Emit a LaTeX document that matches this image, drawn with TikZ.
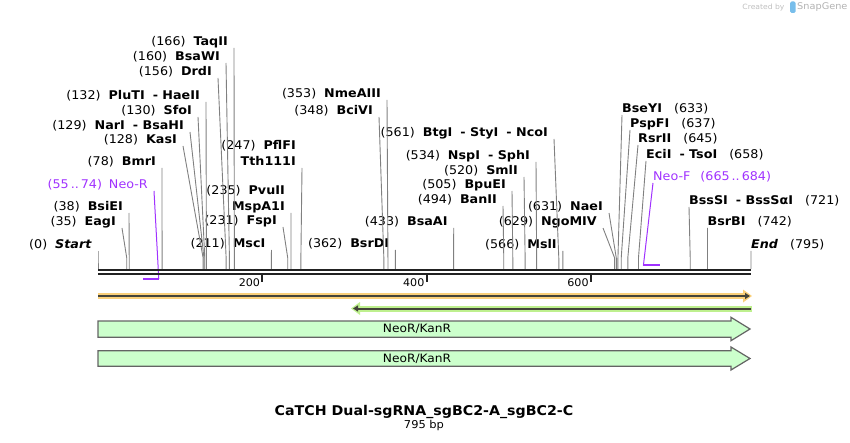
\documentclass[tikz,border=0pt]{standalone}
\usepackage{fontspec}
\setmainfont{DejaVu Sans}[FakeStretch=1.06]
\usetikzlibrary{arrows.meta,positioning}

\definecolor{cutgray}{RGB}{128,128,128}
\definecolor{primer}{RGB}{160,50,255}
\definecolor{trackblack}{RGB}{34,34,34}
\definecolor{featfill}{RGB}{204,255,204}
\definecolor{featdraw}{RGB}{100,100,100}
\definecolor{orangeband}{RGB}{250,208,122}
\definecolor{greenband}{RGB}{190,240,142}
\definecolor{darkline}{RGB}{68,68,58}
\definecolor{logoblue}{RGB}{120,190,235}

\newcommand{\lcut}[2]{(#1)\hspace{8pt}\textbf{#2}}
\newcommand{\rcut}[2]{\textbf{#1}\hspace{12pt}(#2)}

\begin{document}
\begin{tikzpicture}[
  x=1pt, y=-1pt,
  declare function={bp(\n)=98+0.82138*\n;},
  cutl/.style={anchor=south east, inner xsep=6pt, inner ysep=0pt, text height=9pt, text depth=2.5pt, font=\fontsize{12}{14}\selectfont},
  cutr/.style={cutl, anchor=south west, inner xsep=0pt},
  cutline/.style={draw=cutgray, line width=0.9pt},
  primerbar/.style={draw=primer, line width=2pt},
  primerline/.style={draw=primer, line width=1pt},
  feature/.style={draw=featdraw, fill=featfill, line width=1.2pt},
  featlabel/.style={font=\fontsize{11.5}{13}\selectfont, inner sep=1pt}
]
\useasboundingbox (0,0) rectangle (850,443);

% watermark
\node[font=\fontsize{7.2}{9}\selectfont, text=gray!50, anchor=east] (made) at (788,7.5) {Created by};
\fill[logoblue, rounded corners=1.5pt] (790,1.5) rectangle (795.5,13);
\node[font=\fontsize{9.2}{11}\selectfont, text=gray!60, anchor=west, inner xsep=1pt] (snapgene) at (796,7.5) {SnapGene};

% enzymes, left side
\node[cutl] (start) at (98,251) {\lcut{0}{\itshape Start}};
\node[cutl] (eagI) at (122,228) {\lcut{35}{EagI}};
\node[cutl] (bsiEI) at (129,213) {\lcut{38}{BsiEI}};
\node[cutl, text=primer] (neoR) at (154,191) {(55\,..\,74)\hspace{7pt}Neo-R};
\node[cutl] (bmrI) at (162,168) {\lcut{78}{BmrI}};
\node[cutl] (kasI) at (183,146) {\lcut{128}{KasI}};
\node[cutl] (narI) at (190,132) {\lcut{129}{NarI\hspace{8pt}- BsaHI}};
\node[cutl] (sfoI) at (198,117) {\lcut{130}{SfoI}};
\node[cutl] (pluTI) at (206,102) {\lcut{132}{PluTI\hspace{8pt}- HaeII}};
\node[cutl] (drdI) at (218,78) {\lcut{156}{DrdI}};
\node[cutl] (bsaWI) at (226,63) {\lcut{160}{BsaWI}};
\node[cutl] (taqII) at (234,48) {\lcut{166}{TaqII}};
\node[cutl] (mscI) at (271.5,250) {\lcut{211}{MscI}};
\node[cutl] (fspI) at (283,227) {\lcut{231}{FspI}};
\node[cutl] (mspA1I) at (291,213) {\textbf{MspA1I}};
\node[cutl] (pvuII) at ([yshift=3.5pt]mspA1I.north east) {\lcut{235}{PvuII}};
\node[cutl] (tth111I) at (302,168) {\textbf{Tth111I}};
\node[cutl] (pflFI) at ([yshift=3.5pt]tth111I.north east) {\lcut{247}{PflFI}};
\node[cutl] (bciVI) at (379,117) {\lcut{348}{BciVI}};
\node[cutl] (nmeAIII) at (387,100) {\lcut{353}{NmeAIII}};
\node[cutl] (bsrDI) at (395.3,250) {\lcut{362}{BsrDI}};
\node[cutl] (bsaAI) at (453.7,228) {\lcut{433}{BsaAI}};
\node[cutl] (banII) at (503,206) {\lcut{494}{BanII}};
\node[cutl] (bpuEI) at (512,191) {\lcut{505}{BpuEI}};
\node[cutl] (smlI) at (524,177) {\lcut{520}{SmlI}};
\node[cutl] (nspI) at (536,162) {\lcut{534}{NspI\hspace{8pt}- SphI}};
\node[cutl] (btgI) at (554,139) {\lcut{561}{BtgI\hspace{8pt}- StyI\hspace{8pt}- NcoI}};
\node[cutl] (mslI) at (562.9,251) {\lcut{566}{MslI}};
\node[cutl] (ngoMIV) at (603,228) {\lcut{629}{NgoMIV}};
\node[cutl] (naeI) at (609,213) {\lcut{631}{NaeI}};

% enzymes, right side
\node[cutr] (bseYI) at (622,115) {\rcut{BseYI}{633}};
\node[cutr] (pspFI) at (630,130) {\rcut{PspFI}{637}};
\node[cutr] (rsrII) at (638,145) {\rcut{RsrII}{645}};
\node[cutr] (eciI) at (646,161) {\rcut{EciI\hspace{8pt}- TsoI}{658}};
\node[cutr, text=primer] (neoF) at (653,183) {Neo-F\hspace{10pt}(665\,..\,684)};
\node[cutr] (bssSI) at (689,207) {\rcut{BssSI\hspace{8pt}- BssSαI}{721}};
\node[cutr] (bsrBI) at (707.5,228) {\rcut{BsrBI}{742}};
\node[cutr] (endsite) at (751,251) {\rcut{\itshape End}{795}};

% cut lines
\foreach \n/\p/\a in {start/0/south east, eagI/35/south east, bsiEI/38/south east,
    bmrI/78/south east, kasI/128/south east, narI/129/south east, sfoI/130/south east,
    pluTI/132/south east, drdI/156/south east, bsaWI/160/south east, taqII/166/south east,
    mscI/211/south east, fspI/231/south east, mspA1I/235/south east, tth111I/247/south east,
    bciVI/348/south east, nmeAIII/353/south east, bsrDI/362/south east, bsaAI/433/south east,
    banII/494/south east, bpuEI/505/south east, smlI/520/south east, nspI/534/south east,
    btgI/561/south east, mslI/566/south east, ngoMIV/629/south east, naeI/631/south east,
    bseYI/633/south west, pspFI/637/south west, rsrII/645/south west, eciI/658/south west,
    bssSI/721/south west, bsrBI/742/south west, endsite/795/south west}{
  \coordinate (\n-cut) at ({bp(\p)},269);
  \draw[cutline] (\n.\a) -- ([yshift=11pt]\n-cut) -- (\n-cut);
}

% primers
\coordinate (neoR-end) at ({bp(74)},279);
\coordinate (neoF-start) at ({bp(664)},265.5);
\draw[primerline] (neoR.south east) -- (neoR-end);
\draw[primerline] (neoF.south west) -- (neoF-start);
\draw[primerbar] ({bp(55)},279) -- (neoR-end);
\draw[primerbar] (neoF-start) -- ({bp(684)},265.5);

% sequence
\draw[trackblack, line width=2pt] (98,270.3) -- (751,270.3);
\draw[trackblack, line width=2pt] (98,274.3) -- (751,274.3);
\foreach \t in {200,400,600}{
  \draw[trackblack, line width=2pt] ({bp(\t)},275) -- ({bp(\t)},281.5);
  \node[anchor=east, inner sep=1pt, font=\fontsize{10.5}{13}\selectfont] (tick\t) at ({bp(\t)-1},283) {\t};
}

% features
\fill[orangeband] (98,292.7) rectangle (746,299.3);
\fill[orangeband] (743,289.5) -- (752,296) -- (743,302.5) -- cycle;
\draw[darkline, line width=2pt, -{Triangle[length=5pt,width=6pt]}] (98,296) -- (750,296);

\fill[greenband] (357,305.5) rectangle (752,311.5);
\fill[greenband] (360,302) -- (351,308.5) -- (360,315) -- cycle;
\draw[darkline, line width=2pt, {Triangle[length=5pt,width=6pt]}-] (353,308.5) -- (751,308.5);

\draw[feature] (98,321) -- (731,321) -- (731,317.3) -- (750,329) -- (731,340.7) -- (731,337.3) -- (98,337.3) -- cycle;
\node[featlabel] (neoKan1) at (417,329) {NeoR/KanR};
\draw[feature] (98,350.7) -- (731,350.7) -- (731,347) -- (750,358.5) -- (731,370) -- (731,366.3) -- (98,366.3) -- cycle;
\node[featlabel] (neoKan2) at (417,358.5) {NeoR/KanR};

% title
\node[font=\bfseries\fontsize{13.4}{15}\selectfont] (title) at (424,412) {CaTCH Dual-sgRNA\_sgBC2-A\_sgBC2-C};
\node[font=\fontsize{10.8}{12}\selectfont] (size) at (424,426) {795 bp};

\end{tikzpicture}
\end{document}
